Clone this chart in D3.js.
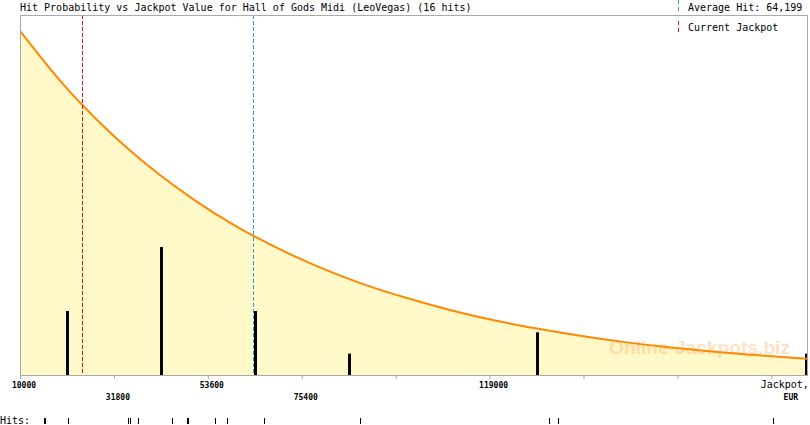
<!DOCTYPE html>
<html><head><meta charset="utf-8">
<script src="https://cdn.jsdelivr.net/npm/d3@7"></script>
<style>body{margin:0;background:#fff}svg{display:block}</style>
</head><body>
<script>
// ---- data ----
const title = "Hit Probability vs Jackpot Value for Hall of Gods Midi (LeoVegas) (16 hits)";
const hits = [15686, 15918, 21373, 35253, 35717, 37434, 45326, 48947, 49179, 55376, 58093, 66679, 88962, 132826, 134915, 184813];
const averageHit = 64199;
const currentJackpot = 24460;
const curveJackpot = [10000, 20000, 30000, 40000, 50000, 60000, 70000, 80000, 90000, 100000, 110000, 120000, 130000, 140000, 150000, 160000, 170000, 180000, 190000, 193000];
const curveProb = [0.956, 0.808, 0.684, 0.579, 0.490, 0.414, 0.351, 0.297, 0.251, 0.213, 0.180, 0.152, 0.129, 0.109, 0.092, 0.078, 0.066, 0.056, 0.047, 0.045];
const tickValues = [10000, 31800, 53600, 75400, 97200, 119000, 140800, 162600, 184400];
const tickLabels = ["10000", "31800", "53600", "75400", "", "119000", "", "", "Jackpot,"];
const tickRow = [0, 1, 0, 1, 0, 0, 0, 0, 0];
const binStep = 21800;

// ---- layout ----
const W = 810, H = 425;
const L = 20, R = 808, T = 15, B = 375;
const mono = "'DejaVu Sans Mono', monospace";
const blue = "#2C9FE0", red = "#E01010";

const svg = d3.select("body").append("svg").attr("width", W).attr("height", H);

const x = d3.scaleLinear().domain([10000, 184400]).range([L, 771.3]);
const y = d3.scaleLinear().domain([0, 1]).range([B, B - 360]);
const yCount = d3.scaleLinear().domain([0, 16.875]).range([B, B - 360]);

svg.append("defs").append("clipPath").attr("id", "plot")
  .append("rect").attr("x", L).attr("y", T).attr("width", R - L).attr("height", B - T);

const curve = curveJackpot.map((v, i) => ({v, p: curveProb[i]}));
const g = svg.append("g").attr("clip-path", "url(#plot)");

// area fill
g.append("path").datum(curve)
  .attr("d", d3.area().x(d => x(d.v)).y0(B).y1(d => y(d.p)).curve(d3.curveMonotoneX))
  .attr("fill", "#FFF8C8");

// watermark
g.append("text").attr("x", 609).attr("y", 354)
  .attr("textLength", 181).attr("lengthAdjust", "spacingAndGlyphs")
  .attr("font-family", "'Liberation Sans', Arial, sans-serif").attr("font-weight", "bold")
  .attr("font-size", 18).attr("fill", "#FFB060").attr("fill-opacity", 0.4)
  .text("Online-Jackpots.biz");

// histogram bars
const bins = d3.bin().domain([10000, 10000 + binStep * 9]).thresholds(d3.range(9).map(i => 10000 + binStep * i))(hits);
g.selectAll("rect.bar").data(bins.filter(b => b.length > 0)).join("rect")
  .attr("class", "bar")
  .attr("x", b => Math.min(Math.round(x((b.x0 + b.x1) / 2)) - 1, R - 3))
  .attr("width", 3)
  .attr("y", b => yCount(b.length))
  .attr("height", b => B - yCount(b.length))
  .attr("fill", "#000");

// curve line
g.append("path").datum(curve)
  .attr("d", d3.line().x(d => x(d.v)).y(d => y(d.p)).curve(d3.curveMonotoneX))
  .attr("fill", "none").attr("stroke", "#FF8800").attr("stroke-width", 2);

// dashed markers (drawn as dash rectangles so the colour stays solid)
function dashedV(v, color) {
  const px = Math.floor(x(v));
  svg.append("g").selectAll("rect").data(d3.range(T, B, 6)).join("rect")
    .attr("x", px).attr("width", 1)
    .attr("y", d => d).attr("height", d => Math.min(4, B - d))
    .attr("fill", color).attr("shape-rendering", "crispEdges");
}
dashedV(currentJackpot, red);
dashedV(averageHit, blue);

// frame
const frame = svg.append("g").attr("stroke", "#AAAAAA").attr("stroke-width", 1).attr("fill", "none");
frame.append("line").attr("x1", L).attr("x2", R).attr("y1", T + 0.5).attr("y2", T + 0.5);
frame.append("line").attr("x1", L + 0.5).attr("x2", L + 0.5).attr("y1", T).attr("y2", B + 1);
frame.append("line").attr("x1", R - 0.5).attr("x2", R - 0.5).attr("y1", T).attr("y2", B);

// x axis
const axis = svg.append("g").attr("transform", `translate(0,${B})`)
  .call(d3.axisBottom(x).tickValues(tickValues).tickSize(4).tickFormat(""));
axis.select(".domain").attr("stroke", "#AAAAAA").attr("d", `M${L},0.5H${R}`);
axis.selectAll(".tick line").attr("stroke", "#AAAAAA");
axis.selectAll(".tick").each(function(d, i) {
  const t = d3.select(this);
  if (!tickLabels[i]) return;
  if (tickLabels[i] === "Jackpot,") {
    t.append("text").attr("x", 13).attr("y", 13).attr("text-anchor", "middle")
      .attr("font-family", mono).attr("font-size", 10).attr("fill", "#000").text("Jackpot,");
    t.append("text").attr("x", 19).attr("y", 25).attr("text-anchor", "middle")
      .attr("font-family", mono).attr("font-size", 8).attr("font-weight", "bold").attr("fill", "#000").text("EUR");
  } else {
    t.append("text").attr("x", 3.5).attr("y", tickRow[i] ? 25 : 13).attr("text-anchor", "middle")
      .attr("font-family", mono).attr("font-size", 8).attr("font-weight", "bold").attr("fill", "#000").text(tickLabels[i]);
  }
});

// title
svg.append("text").attr("x", 20).attr("y", 10.5).attr("font-family", mono).attr("font-size", 10)
  .attr("fill", "#000").text(title);

// legend
svg.append("line").attr("x1", 678.5).attr("x2", 678.5).attr("y1", 0).attr("y2", 12)
  .attr("stroke", blue).attr("stroke-dasharray", "4,3").attr("shape-rendering", "crispEdges");
svg.append("text").attr("x", 688).attr("y", 10.5).attr("font-family", mono).attr("font-size", 10)
  .attr("fill", "#000").text("Average Hit: " + d3.format(",")(averageHit));
svg.append("line").attr("x1", 678.5).attr("x2", 678.5).attr("y1", 21).attr("y2", 33)
  .attr("stroke", red).attr("stroke-dasharray", "4,3").attr("shape-rendering", "crispEdges");
svg.append("text").attr("x", 688).attr("y", 30.5).attr("font-family", mono).attr("font-size", 10)
  .attr("fill", "#000").text("Current Jackpot");

// hits strip
svg.append("text").attr("x", 0).attr("y", 423.5).attr("font-family", mono).attr("font-size", 10)
  .attr("fill", "#000").text("Hits:");
svg.append("g").selectAll("line").data(hits).join("line")
  .attr("x1", d => Math.floor(x(d)) + 0.5).attr("x2", d => Math.floor(x(d)) + 0.5)
  .attr("y1", 418).attr("y2", 424).attr("stroke", "#000").attr("stroke-width", 1);
</script>
</body></html>
